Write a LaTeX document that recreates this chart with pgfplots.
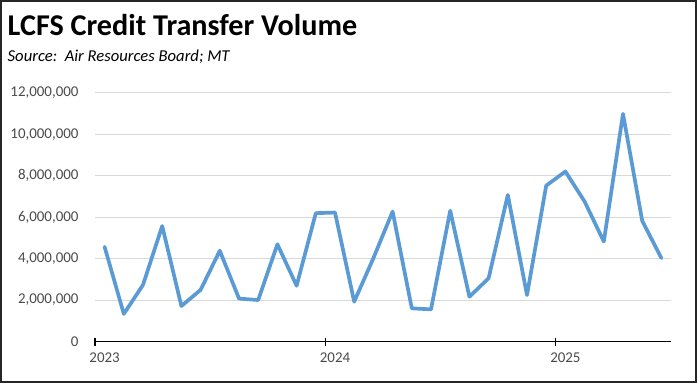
\documentclass[border=0pt]{standalone}
\usepackage{pgfplots}
\pgfplotsset{compat=1.18}
\usepackage{fontspec}
\setmainfont{Carlito}
\definecolor{lineblue}{HTML}{5B9BD5}
\definecolor{gridgray}{HTML}{D9D9D9}
\definecolor{labgray}{HTML}{4A4A4A}
\begin{document}
\begin{tikzpicture}[x=1bp,y=1bp]
\useasboundingbox (0,0) rectangle (697,383);
\draw[line width=2bp, black!85] (1,1) rectangle (696,382);
\node[anchor=base west, inner sep=0pt, font=\bfseries\fontsize{30.3}{33}\selectfont] at (7.5,348) {LCFS Credit Transfer Volume};
\node[anchor=base west, inner sep=0pt, font=\itshape\fontsize{16.7}{19}\selectfont] at (7.5,322) {Source:\ \ Air Resources Board; MT};
\begin{axis}[
  at={(95bp,41.5bp)}, anchor=south west,
  scale only axis, width=576bp, height=248.8bp,
  xmin=0, xmax=30, ymin=0, ymax=12000000,
  axis x line*=bottom, axis y line*=left,
  x axis line style={black, line width=1.3bp, -},
  y axis line style={draw=none},
  xtick={0,12,24}, xticklabels={2023,2024,2025},
  xtick style={black, line width=1.2bp},
  major tick length=8bp, tick align=center,
  xticklabel style={xshift=9.6bp, yshift=-4bp, font=\fontsize{15}{17}\selectfont, text=labgray},
  ytick={0,2000000,4000000,6000000,8000000,10000000,12000000},
  scaled y ticks=false,
  yticklabel style={font=\fontsize{15}{17}\selectfont, text=labgray, xshift=-9bp},
  /pgf/number format/.cd, fixed, 1000 sep={,}, assume math mode=true,
  /pgfplots/.cd,
  ymajorgrids, grid style={gridgray, line width=1bp},
  ytick style={draw=none},
  clip=false,
]
\addplot[lineblue, line width=3.7bp, line join=round, line cap=round, no marks] coordinates {
(0.5,4570000) (1.5,1330000) (2.5,2730000) (3.5,5570000) (4.5,1710000) (5.5,2490000)
(6.5,4380000) (7.5,2070000) (8.5,2000000) (9.5,4690000) (10.5,2690000) (11.5,6190000)
(12.5,6220000) (13.5,1920000) (14.5,4020000) (15.5,6270000) (16.5,1600000) (17.5,1550000)
(18.5,6310000) (19.5,2160000) (20.5,3050000) (21.5,7070000) (22.5,2240000) (23.5,7520000)
(24.5,8200000) (25.5,6750000) (26.5,4820000) (27.5,10980000) (28.5,5820000) (29.5,4020000)
};
\end{axis}
\end{tikzpicture}
\end{document}
